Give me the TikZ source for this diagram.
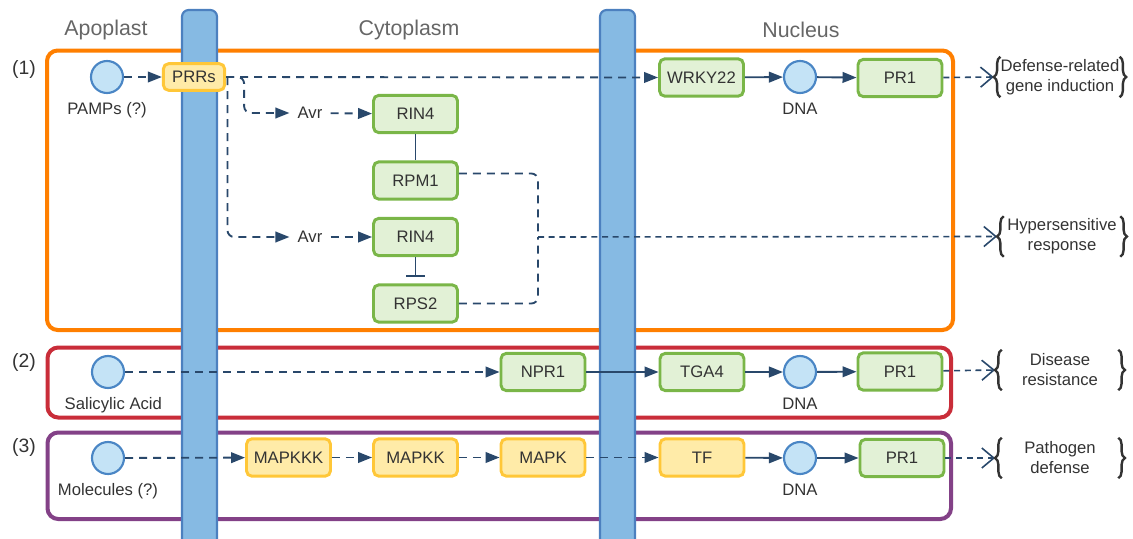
\documentclass[tikz,border=0pt]{standalone}
\usepackage{fontspec}
\setmainfont{Liberation Sans}
\usetikzlibrary{arrows.meta,decorations.pathreplacing,positioning}
\definecolor{txt}{HTML}{333333}
\definecolor{ttl}{HTML}{666666}
\definecolor{orng}{HTML}{FF7F00}
\definecolor{rd}{HTML}{C92D39}
\definecolor{prp}{HTML}{834187}
\definecolor{grnb}{HTML}{7AB648}
\definecolor{grnf}{HTML}{E2F1D6}
\definecolor{yelb}{HTML}{FFC738}
\definecolor{yelf}{HTML}{FFEBA8}
\definecolor{molb}{HTML}{4A86C5}
\definecolor{molf}{HTML}{C4E3F6}
\definecolor{membb}{HTML}{4C80BF}
\definecolor{membf}{HTML}{86BAE3}
\definecolor{arrc}{HTML}{29486B}

\begin{document}
\begin{tikzpicture}[x=0.75pt,y=-0.75pt,
    font=\fontsize{12.5}{15}\selectfont,
    every node/.style={text=txt},
    gbox/.style={draw=grnb,fill=grnf,line width=2.2pt,rounded corners=4pt,
      minimum width=63pt,minimum height=28pt,inner sep=1pt},
    ybox/.style={gbox,draw=yelb,fill=yelf},
    mol/.style={circle,draw=molb,fill=molf,line width=1.6pt,minimum size=24pt,inner sep=0pt},
    lbl/.style={text=txt,label distance=3pt},
    avr/.style={inner sep=6pt},
    area/.style={rounded corners=8pt,line width=3pt},
    memb/.style={draw=membb,fill=membf,line width=1.6pt,rounded corners=5pt},
    ttlnode/.style={text=ttl,font=\fontsize{16}{19}\selectfont},
    num/.style={font=\fontsize{14.5}{17}\selectfont},
    outc/.style={align=center,minimum width=87pt,minimum height=30pt,inner sep=0pt},
    brc/.style={draw=txt,line width=1.8pt,decorate,decoration={brace,amplitude=5pt}},
    line/.style={draw=arrc,line width=1.4pt},
    arr/.style={line,-{Triangle[length=10.5pt,width=8pt]}},
    dline/.style={line,dash pattern=on 6pt off 4.5pt},
    dsh/.style={arr,dash pattern=on 6pt off 4.5pt},
    open/.style={line,line width=1.2pt,dash pattern=on 4.5pt off 3.5pt,
      -{Straight Barb[length=9pt,width=15pt]}}]
  \useasboundingbox (0,0) rectangle (1133,539);

  % compartments and membranes
  \draw[area,draw=orng] (47,50.5) rectangle (953,330);
  \draw[area,draw=rd] (47.5,347.5) rectangle (951,417.5);
  \draw[area,draw=prp] (47.5,432.5) rectangle (951,519);
  \draw[memb] (182,10) rectangle (217,560);
  \draw[memb] (600,10) rectangle (635,560);

  \node[ttlnode] (apo) at (106,30) {Apoplast};
  \node[ttlnode] (cyto) at (409,30) {Cytoplasm};
  \node[ttlnode] (nuc) at (801,30) {Nucleus};
  \node[num] (n1) at (24,69) {(1)};
  \node[num] (n2) at (24,362) {(2)};
  \node[num] (n3) at (24,447) {(3)};

  % (1)
  \node[mol,label={[lbl]below:PAMPs (?)}] (pamps) at (107,77) {};
  \node[ybox,minimum width=46pt,minimum height=20pt] (prrs) at (194,77) {PRRs};
  \node[gbox] (wrky) at (701.5,77.5) {WRKY22};
  \node[mol,label={[lbl]below:DNA}] (dna1) at (800,77) {};
  \node[gbox] (pr1a) at (900,78) {PR1};
  \node[outc] (gene) at (1060,77) {Defense-related\\gene induction};
  \node[avr] (avr1) at (310,113) {Avr};
  \node[gbox] (rin4a) at (415.5,114) {RIN4};
  \node[gbox] (rpm1) at (415.5,180.5) {RPM1};
  \node[avr] (avr2) at (310,237) {Avr};
  \node[gbox] (rin4b) at (415.5,237) {RIN4};
  \node[gbox] (rps2) at (415.5,303.5) {RPS2};
  \coordinate (hr) at (538,237);
  \node[outc] (hyper) at (1062,236.5) {Hypersensitive\\response};

  \draw[dsh] (pamps) -- (prrs);
  \draw[dsh] (prrs.east) -- (wrky.west);
  \draw[dsh,rounded corners=5pt] (prrs.east) -- ++(18,0) |- (avr1.west);
  \draw[dsh,rounded corners=5pt] ([xshift=1pt]prrs.east) |- (avr2.west);
  \draw[dsh] (avr1) -- (rin4a);
  \draw[dsh] (avr2) -- (rin4b);
  \draw[line] (rin4a) -- (rpm1);
  \draw[line,-{Bar[width=14pt]},shorten >=5pt] (rin4b) -- (rps2);
  \draw[dline,rounded corners=5pt] ([yshift=5.25pt]rpm1.east) -| (hr);
  \draw[dline,rounded corners=5pt] (rps2.east) -| (hr);
  \draw[open] (hr) -- ([xshift=-5pt]hyper.west);
  \draw[arr] (wrky) -- (dna1);
  \draw[arr] (dna1) -- (pr1a);
  \draw[open] (pr1a) -- ([xshift=-5pt]gene.west);

  % (2)
  \node[mol,label={[lbl,xshift=4pt]below:Salicylic Acid}] (sa) at (108,372) {};
  \node[gbox] (npr1) at (543,372) {NPR1};
  \node[gbox] (tga4) at (702,372) {TGA4};
  \node[mol,label={[lbl]below:DNA}] (dna2) at (800,372) {};
  \node[gbox] (pr1b) at (900,371.5) {PR1};
  \node[outc] (dis) at (1060,370) {Disease\\resistance};
  \draw[dsh] (sa) -- (npr1);
  \draw[arr] (npr1) -- (tga4);
  \draw[arr] (tga4) -- (dna2);
  \draw[arr] (dna2) -- (pr1b);
  \draw[open] (pr1b) -- ([xshift=-5pt]dis.west);

  % (3)
  \node[mol,label={[lbl]below:Molecules (?)}] (molc) at (108,458) {};
  \node[ybox] (mapkkk) at (288.5,457.5) {MAPKKK};
  \node[ybox] (mapkk) at (415.5,457.5) {MAPKK};
  \node[ybox] (mapk) at (543,457.5) {MAPK};
  \node[ybox] (tf) at (702,457.5) {TF};
  \node[mol,label={[lbl]below:DNA}] (dna3) at (800,458) {};
  \node[gbox] (pr1c) at (902,458) {PR1};
  \node[outc] (path) at (1060,458) {Pathogen\\defense};
  \draw[dsh] (molc) -- (mapkkk);
  \draw[dsh] (mapkkk) -- (mapkk);
  \draw[dsh] (mapkk) -- (mapk);
  \draw[dsh] (mapk) -- (tf);
  \draw[arr] (tf) -- (dna3);
  \draw[arr] (dna3) -- (pr1c);
  \draw[open] (pr1c) -- ([xshift=-5pt]path.west);

  \foreach \n in {gene,hyper,dis,path} {
    \draw[brc] (\n.south west) -- (\n.north west);
    \draw[brc] (\n.north east) -- (\n.south east);
  }
\end{tikzpicture}
\end{document}
